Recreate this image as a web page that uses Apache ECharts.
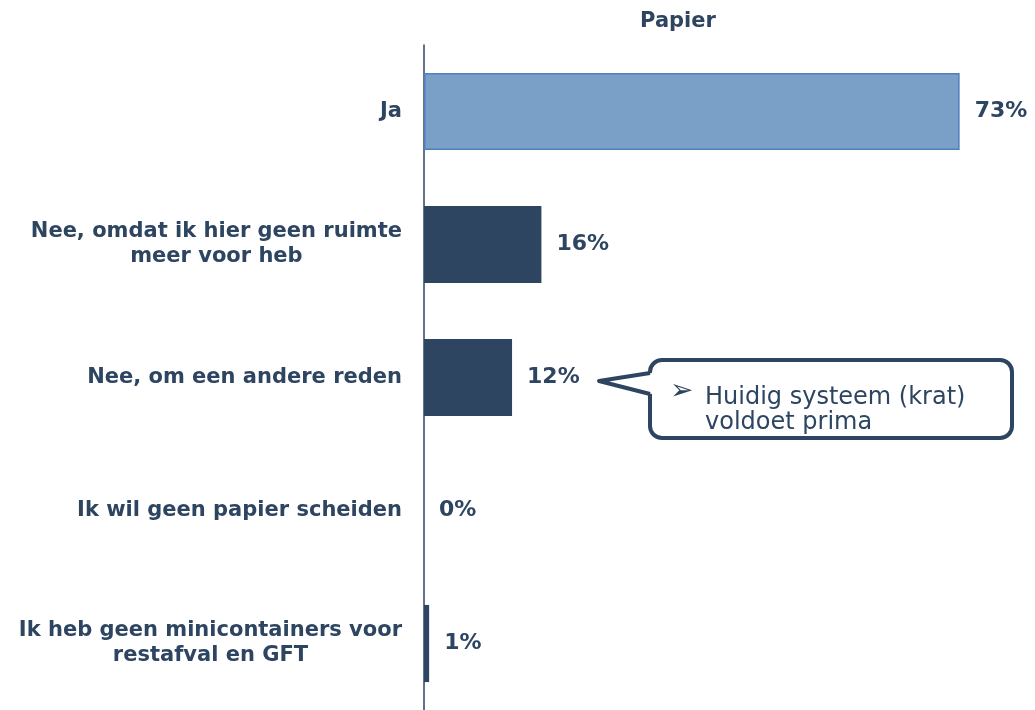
<!DOCTYPE html>
<html>
<head>
<meta charset="utf-8">
<script src="https://cdn.jsdelivr.net/npm/echarts@6/dist/echarts.min.js"></script>
<style>
  html, body { margin: 0; padding: 0; background: #fff; }
  #chart { width: 1035px; height: 710px; }
</style>
</head>
<body>
<div id="chart"></div>
<script>
const categories = [
  "Ja",
  "Nee, omdat ik hier geen ruimte\nmeer voor heb",
  "Nee, om een andere reden",
  "Ik wil geen papier scheiden",
  "Ik heb geen minicontainers voor\nrestafval en GFT"
];
const values = [73, 16, 12, 0, 0.7];
const valueLabels = ["73%", "16%", "12%", "0%", "1%"];
const calloutText = ["Huidig systeem (krat)", "voldoet prima"];

const navy = "#2e4561";
const font = "DejaVu Sans";

const chart = echarts.init(document.getElementById("chart"));

const option = {
  backgroundColor: "#fff",
  animation: false,
  title: {
    text: "Papier",
    left: 673,
    top: 6,
    textAlign: "center",
    textStyle: { fontFamily: font, fontSize: 21, fontWeight: "bold", color: navy }
  },
  grid: { left: 424, right: 24, top: 45, bottom: 0 },
  xAxis: {
    type: "value",
    min: 0,
    max: 80,
    show: false
  },
  yAxis: {
    type: "category",
    inverse: true,
    data: categories,
    axisLine: { show: true, lineStyle: { color: navy, width: 1.5 } },
    axisTick: { show: false },
    axisLabel: {
      margin: 22,
      formatter: (v) => v.split("\n").map((s) => "{a|" + s + "}").join("\n"),
      rich: {
        a: { fontFamily: font, fontSize: 21, fontWeight: "bold", color: navy, align: "center", lineHeight: 25 }
      }
    }
  },
  series: [{
    type: "bar",
    data: values.map((v, i) => ({
      value: v,
      itemStyle: i === 0
        ? { color: "#7aa0c7", borderColor: "#4f7fbf", borderWidth: 1.5 }
        : { color: navy }
    })),
    barCategoryGap: "42%",
    label: {
      show: true,
      position: "right",
      distance: 15,
      formatter: (p) => valueLabels[p.dataIndex],
      fontFamily: font,
      fontSize: 22,
      fontWeight: "bold",
      color: navy
    }
  }],
  graphic: [
    {
      type: "rect",
      shape: { x: 650, y: 360, width: 362, height: 78, r: 12 },
      style: { fill: "#fff", stroke: navy, lineWidth: 4 },
      z: 10
    },
    {
      type: "rect",
      shape: { x: 646, y: 376, width: 8, height: 15 },
      style: { fill: "#fff" },
      z: 11
    },
    {
      type: "polygon",
      shape: { points: [[652, 373], [599, 381], [652, 394]] },
      style: { fill: "#fff", stroke: "none" },
      z: 11
    },
    {
      type: "polyline",
      shape: { points: [[650, 373], [599, 381], [650, 394]] },
      style: { stroke: navy, lineWidth: 4, lineJoin: "round", fill: null },
      z: 12
    },
    {
      type: "text",
      left: 670,
      top: 378,
      style: { text: "\u27a2", fontFamily: font, fontSize: 28, fill: navy },
      z: 13
    },
    {
      type: "text",
      left: 705,
      top: 385,
      style: {
        text: calloutText.join("\n"),
        fontFamily: font,
        fontSize: 24,
        lineHeight: 25,
        fill: navy
      },
      z: 13
    }
  ]
};

chart.setOption(option);
</script>
</body>
</html>
